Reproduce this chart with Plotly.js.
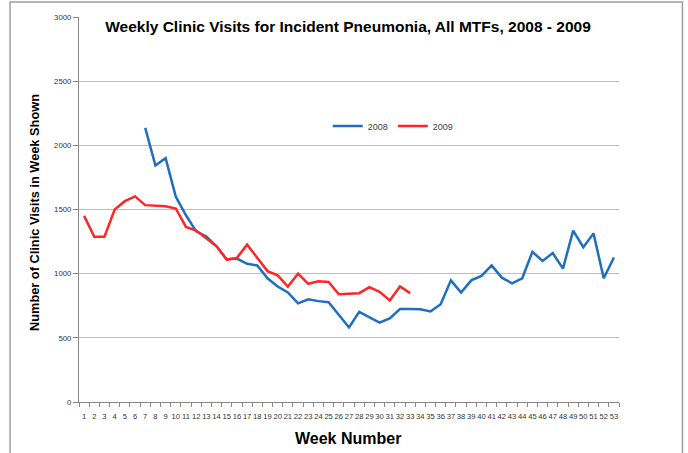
<!DOCTYPE html>
<html>
<head>
<meta charset="utf-8">
<script src="https://cdn.plot.ly/plotly-3.0.1.min.js"></script>
<style>
html,body{margin:0;padding:0;background:#fff;}
#chart{width:688px;height:453px;}
</style>
</head>
<body>
<div id="chart"></div>
<script>
const weeks = ["1","2","3","4","5","6","7","8","9","10","11","12","13","14","15","16","17","18","19","20","21","22","23","24","25","26","27","28","29","30","31","32","33","34","35","36","37","38","39","40","41","42","43","44","45","46","47","48","49","50","51","52","53"];
const visits2008 = [null,null,null,null,null,null,2136,1843,1900,1600,1455,1330,1290,1213,1110,1118,1077,1064,964,900,854,769,800,786,778,678,581,702,660,618,652,725,725,722,706,762,948,852,948,982,1065,969,925,964,1170,1099,1160,1039,1335,1206,1314,964,1126];
const visits2009 = [1450,1288,1288,1500,1565,1602,1534,1531,1526,1508,1364,1336,1277,1213,1110,1123,1226,1123,1020,987,900,1000,921,940,935,840,846,848,895,859,791,900,848];
const yTicks = [0,500,1000,1500,2000,2500,3000];

const W = 688, H = 453;
const L = 79, R = 68.5, T = 17, B = 51;
const pw = W - L - R, ph = H - T - B;
const px = v => (v - L) / pw;
const py = v => (H - B - v) / ph;

const traces = [
  {x: weeks, y: visits2008, type: 'scatter', mode: 'lines', name: '2008',
   line: {color: '#1F6EC0', width: 2.5}, connectgaps: false},
  {x: weeks.slice(0, visits2009.length), y: visits2009, type: 'scatter', mode: 'lines', name: '2009',
   line: {color: '#FF2626', width: 2.5}}
];

const layout = {
  width: W, height: H,
  margin: {l: L, r: R, t: T, b: B, pad: 0},
  paper_bgcolor: '#ffffff', plot_bgcolor: '#ffffff',
  font: {family: 'Liberation Sans, Arial, sans-serif', color: '#404040'},
  title: {text: 'Weekly Clinic Visits for Incident Pneumonia, All MTFs, 2008 - 2009',
          x: 348 / W, y: 1 - 27 / H, xref: 'container', yref: 'container',
          xanchor: 'center', yanchor: 'middle',
          font: {family: 'Liberation Sans, Arial, sans-serif', size: 15.5, color: '#000000', weight: 'bold'}},
  xaxis: {type: 'category', range: [-0.5, 52.5], tickmode: 'array', tickvals: weeks, ticktext: weeks,
          tickson: 'boundaries', ticks: 'outside', ticklen: 4, tickcolor: '#888888',
          showline: true, linecolor: '#888888', linewidth: 1, showgrid: false, zeroline: false,
          ticklabelstandoff: 7,
          tickangle: 0, tickfont: {size: 7.6, color: '#333333'}, automargin: false},
  yaxis: {range: [0, 3000], tickmode: 'array', tickvals: yTicks, ticks: 'outside', ticklen: 5,
          tickcolor: '#888888', showline: true, linecolor: '#888888', linewidth: 1,
          showgrid: true, gridcolor: '#BEBEBE', gridwidth: 1, zeroline: false,
          tickfont: {size: 7.8, color: '#333333'}, automargin: false},
  legend: {orientation: 'h', x: px(328), y: py(126), xanchor: 'left', yanchor: 'middle',
           bgcolor: 'rgba(0,0,0,0)', font: {size: 9, color: '#404040'}, itemwidth: 30, tracegroupgap: 0},
  showlegend: true,
  annotations: [
    {text: '<b>Number of Clinic Visits in Week Shown</b>', xref: 'paper', yref: 'paper',
     x: px(35), y: py(213), textangle: -90, showarrow: false, xanchor: 'center', yanchor: 'middle',
     font: {size: 12.8, color: '#000000', family: 'Liberation Sans, Arial, sans-serif'}},
    {text: '<b>Week Number</b>', xref: 'paper', yref: 'paper',
     x: px(348), y: py(439), showarrow: false, xanchor: 'center', yanchor: 'middle',
     font: {size: 16, color: '#000000', family: 'Liberation Sans, Arial, sans-serif'}}
  ],
  shapes: [
    {type: 'rect', xref: 'paper', yref: 'paper', x0: px(10), x1: px(683), y0: py(470), y1: py(2),
     line: {color: '#A0A0A0', width: 1.5}, fillcolor: 'rgba(0,0,0,0)', layer: 'below'}
  ]
};

Plotly.newPlot('chart', traces, layout, {staticPlot: true, displayModeBar: false});
</script>
</body>
</html>
